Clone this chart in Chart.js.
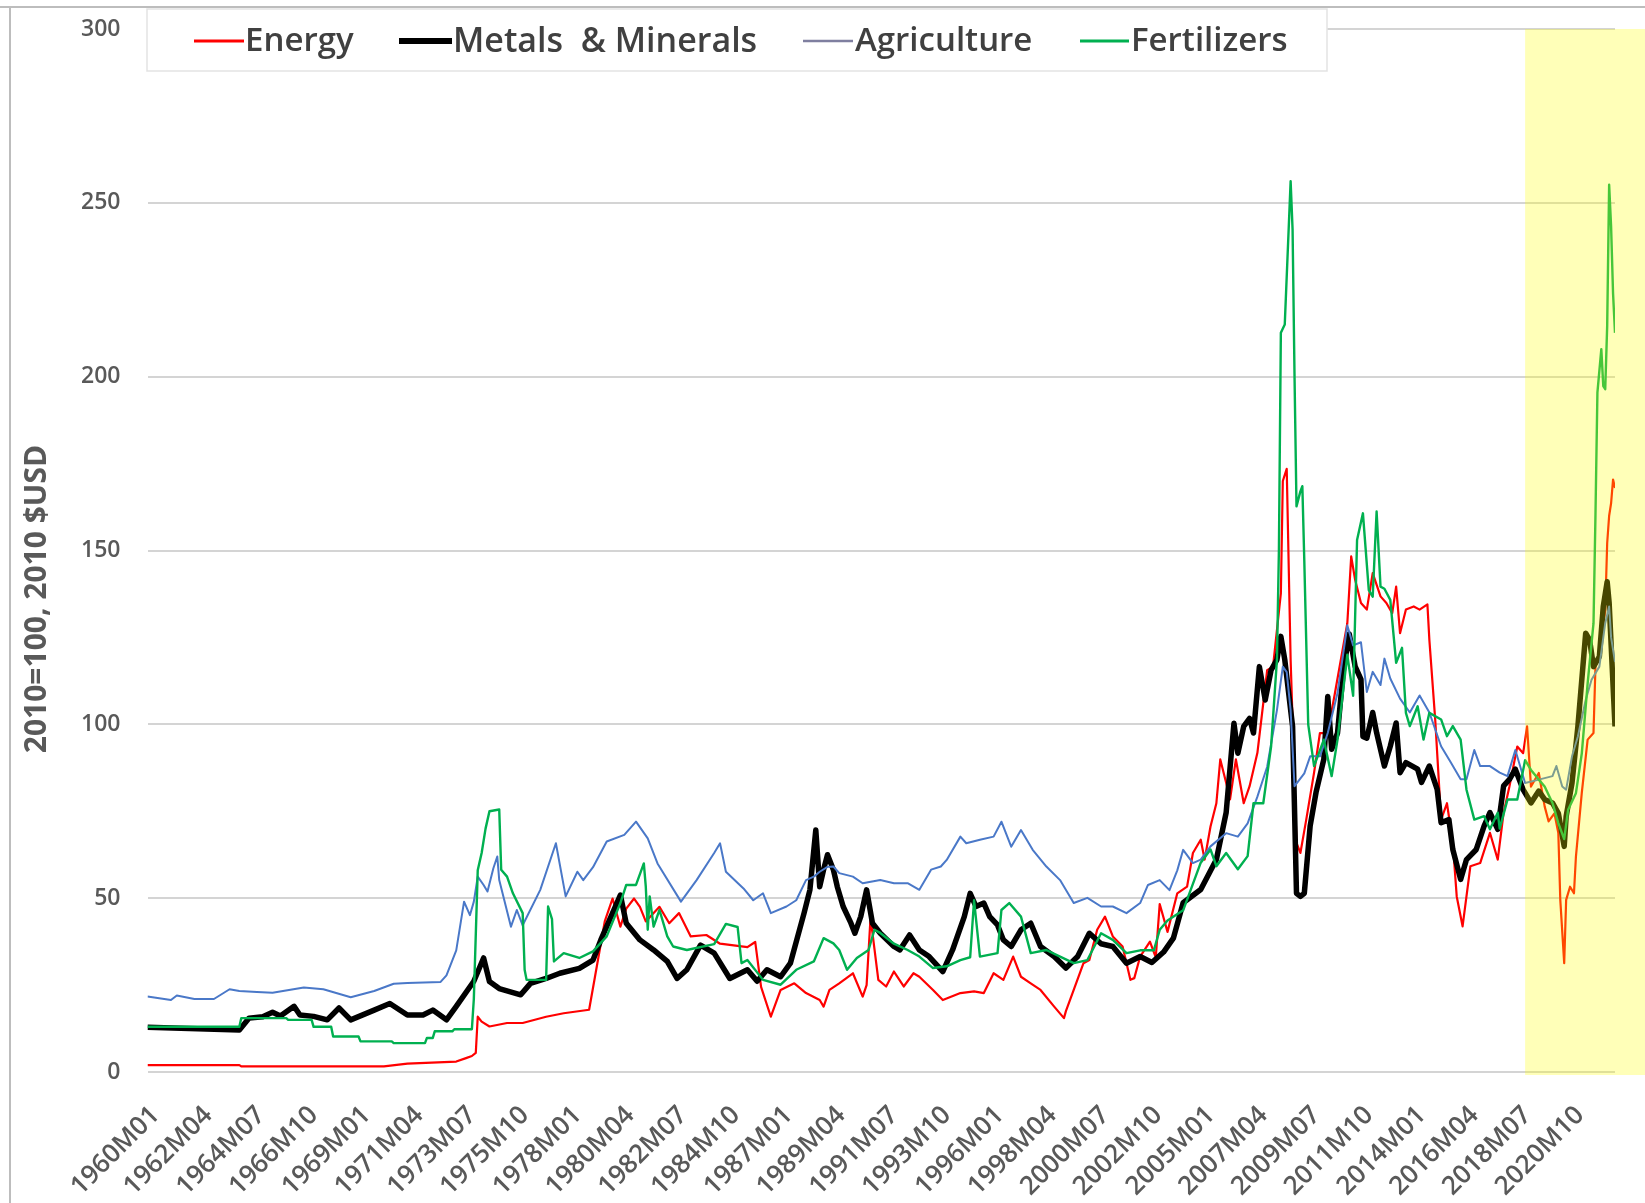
<!DOCTYPE html>
<html>
<head>
<meta charset="utf-8">
<script src="https://cdn.jsdelivr.net/npm/chart.js@4.4.1/dist/chart.umd.min.js"></script>
<style>
  html, body { margin: 0; padding: 0; background: #ffffff; }
  #wrap { width: 1645px; height: 1203px; position: relative; }
</style>
</head>
<body>
<div id="wrap"><canvas id="c"></canvas></div>
<script>
// x values are months since 1960M01 (0 = 1960M01, 751 = 2022M08)
const tickLabels = ['1960M01','1962M04','1964M07','1966M10','1969M01','1971M04','1973M07','1975M10',
  '1978M01','1980M04','1982M07','1984M10','1987M01','1989M04','1991M07','1993M10','1996M01','1998M04',
  '2000M07','2002M10','2005M01','2007M04','2009M07','2011M10','2014M01','2016M04','2018M07','2020M10'];
const lastMonth = '2022M08';
const highlightStart = '2018M10';
const seriesNames = ['Energy', 'Metals  & Minerals', 'Agriculture', 'Fertilizers'];
const yAxisTitle = '2010=100, 2010 $USD';

const energy = [[0,2.0],[47,2.0],[48,1.6],[121,1.6],[133,2.4],[158,3.0],[163,4.0],[166,4.6],[168,5.5],[169,15.9],[171,14.5],[175,13.1],[184,14.1],[192,14.1],[204,15.9],[213,16.9],[226,17.9],[229,27.4],[234,43.3],[238,49.9],[242,41.8],[245,47],[249,49.9],[252,47.5],[255,43.3],[262,47.5],[267,42.8],[272,45.7],[278,39.0],[286,39.4],[293,36.9],[307,35.9],[311,37.4],[314,24.5],[319,15.9],[324,23.6],[331,25.5],[337,22.7],[344,20.7],[346,18.8],[349,23.6],[354,25.5],[361,28.4],[366,21.7],[368,25],[370,44.2],[371,40.0],[374,26.5],[378,24.6],[382,28.9],[387,24.6],[392,28.4],[395,27.4],[402,23.6],[407,20.7],[416,22.7],[423,23.2],[428,22.7],[433,28.4],[438,26.5],[443,33.2],[447,27.4],[452,25.5],[457,23.6],[464,18.8],[469,15.5],[470,17.5],[474,23.6],[479,31.3],[482,32.2],[486,40.9],[490,44.7],[494,39.0],[499,36.1],[503,26.5],[505,27.0],[508,33.2],[513,37.5],[516,33],[518,48.3],[522,40.3],[527,51.4],[532,53.3],[535,63.0],[539,66.8],[541,61.1],[544,70.6],[547,77.3],[549,89.9],[552,83.2],[554,78.4],[557,89.9],[561,77.3],[564,82.2],[568,91.8],[573,115.6],[576,116.6],[580,137.7],[581,170],[583,173.5],[585,118.6],[588,65.9],[590,63.0],[593,72.6],[597,86.1],[600,97.5],[604,97.5],[608,110],[614,129],[616,148.3],[618,141.6],[621,134.9],[624,133.0],[627,143.5],[631,136.8],[634,134.9],[637,132.0],[639,139.6],[641,126.2],[644,133.0],[648,133.9],[651,133.0],[655,134.5],[656,124.3],[659,101.3],[662,72.6],[665,77.3],[668,65.9],[670,50.5],[673,41.9],[677,59.2],[682,60.1],[687,68.8],[691,61.1],[694,74.6],[697,82.2],[701,93.6],[704,91.7],[706,99.4],[708,82.1],[712,86.0],[715,76.4],[717,72.1],[720,74.4],[722,68.7],[723,49.5],[725,31.3],[726,49.5],[728,53.3],[730,51.4],[731,61.9],[734,80.3],[737,95.6],[740,97.5],[741,116.6],[743,120],[746,133],[747,152.1],[748,160],[749,163.6],[750,170.4],[751,168]];

const metals = [[0,12.9],[47,12.1],[52,15.5],[59,15.9],[64,17.2],[68,16.1],[75,18.9],[78,16.4],[85,16.0],[92,15.0],[98,18.4],[104,15.0],[116,17.8],[124,19.7],[133,16.4],[141,16.4],[146,17.8],[153,15.0],[158,18.9],[167,26.1],[172,32.8],[175,26.0],[180,24.0],[191,22.2],[196,25.5],[204,26.9],[211,28.4],[221,29.8],[228,32.2],[232,38.0],[242,50.9],[245,42.8],[252,38.0],[259,35.1],[266,31.8],[271,26.9],[276,29.4],[283,36.5],[290,34.2],[298,26.9],[307,29.4],[312,26.1],[317,29.4],[324,27.4],[329,31.3],[336,45.7],[339,52.4],[342,69.6],[344,53.3],[346,58.2],[348,62.5],[351,58.2],[353,53.3],[356,47.6],[360,42.8],[362,39.9],[365,44.7],[368,52.4],[371,42.8],[375,39.9],[382,36.1],[385,35.1],[390,39.4],[395,35.1],[400,33.2],[407,28.9],[412,35.1],[418,44.7],[421,51.4],[424,47.6],[428,48.6],[431,44.7],[435,42.3],[438,38.0],[442,36.1],[447,40.9],[452,42.8],[457,36.1],[464,33.2],[470,29.9],[476,33.2],[482,39.9],[488,36.9],[494,36.1],[501,31.3],[508,33.2],[514,31.5],[520,34.5],[525,38.5],[530,48.7],[539,52.5],[547,61.1],[552,74.6],[556,100.3],[558,91.7],[561,99.4],[564,101.7],[566,97.5],[569,116.6],[572,107.0],[575,115.6],[578,118.6],[580,125.3],[582,118.6],[586,99.4],[588,51.4],[590,50.5],[592,51.4],[595,70.8],[598,80.4],[602,90.0],[604,108.0],[606,92.8],[609,97.5],[612,115.6],[615,126],[618,116.7],[621,112.9],[622,96.5],[624,96.0],[627,103.4],[629,97.6],[633,88.0],[636,93.7],[639,100.4],[641,86.1],[644,89.0],[650,87.1],[652,83.3],[656,88.0],[660,81.3],[662,71.7],[666,72.6],[668,64.0],[672,55.4],[675,61.1],[680,64.0],[684,70.7],[687,74.6],[691,69.8],[694,82.3],[697,84.2],[700,87.1],[704,81.2],[708,77.4],[712,80.8],[715,78.4],[719,77.4],[722,74.4],[725,64.9],[726,73.5],[729,83.1],[732,99.4],[736,126.2],[738,124.3],[740,116.6],[743,119.5],[745,133.9],[747,141],[748,135],[751,99.4]];

const agriculture = [[0,21.7],[12,20.7],[15,22.0],[24,21.0],[34,21.0],[42,23.8],[47,23.3],[56,23.0],[64,22.8],[80,24.3],[90,23.8],[104,21.5],[116,23.3],[126,25.4],[133,25.6],[150,25.9],[153,27.8],[158,35.0],[162,49.0],[165,45.1],[167,49.0],[169,56.2],[172,53.8],[174,51.9],[177,58.6],[179,62.0],[180,55.2],[186,41.8],[189,46.6],[192,42.2],[201,52.4],[209,65.8],[214,50.5],[220,57.6],[223,55.2],[228,58.9],[235,66.3],[244,68.2],[250,72.0],[256,67.2],[261,60.0],[273,49.0],[281,55.2],[290,63.0],[293,65.8],[296,57.6],[305,52.8],[310,49.4],[315,51.4],[319,45.7],[327,47.6],[332,49.4],[337,55.2],[341,56.2],[344,57.6],[348,59.0],[351,59.1],[354,57.2],[361,56.2],[366,54.3],[375,55.2],[382,54.3],[389,54.3],[395,52.4],[401,58.2],[406,59.1],[409,61.0],[416,67.7],[419,65.8],[426,66.8],[433,67.7],[437,72.0],[442,64.8],[447,69.6],[453,63.9],[460,59.1],[467,55.2],[474,48.6],[481,50.1],[488,47.6],[494,47.6],[501,45.7],[508,48.6],[512,53.8],[518,55.2],[523,52.3],[527,58.0],[530,63.9],[535,60.1],[539,61.1],[544,64.9],[552,68.7],[558,67.7],[563,71.5],[568,79.2],[573,87.8],[578,104.1],[581,116.6],[583,115.0],[585,104.0],[587,82.2],[592,85.9],[595,90.8],[600,90.8],[604,97.5],[609,109.0],[614,128.5],[617,122.7],[621,123.6],[624,109.3],[627,115.1],[631,111.3],[633,118.9],[636,113.2],[641,107.4],[646,103.4],[651,108.3],[656,103.4],[662,93.7],[667,89.0],[672,84.2],[675,84.2],[679,92.6],[682,88.0],[687,88.0],[692,86.1],[696,85.1],[700,92.6],[705,83.1],[712,84.1],[719,85.1],[721,88.0],[724,82.1],[726,81.2],[729,90.8],[732,96.5],[736,107.0],[739,112.8],[743,116.6],[746,129.1],[748,133.9],[749,125.0],[751,118.0]];

const fertilizers = [[0,13.0],[47,13.0],[48,15.5],[71,15.5],[72,15.0],[84,15.0],[85,13.0],[94,13.0],[95,10.2],[108,10.2],[109,8.8],[125,8.8],[126,8.3],[142,8.3],[143,9.8],[146,9.8],[147,11.7],[156,11.7],[157,12.3],[166,12.3],[167,21.0],[169,58.0],[171,63.0],[173,70.0],[175,75.0],[180,75.5],[181,58.2],[184,56.2],[187,51.4],[192,45.7],[193,29.4],[194,26.5],[204,26.5],[205,47.6],[207,44.0],[208,31.8],[213,34.2],[221,32.8],[228,34.7],[235,39.0],[242,48.6],[245,53.8],[250,53.8],[254,60.0],[255,53.3],[256,40.9],[257,50.5],[259,41.8],[262,46.6],[266,39.0],[269,36.1],[276,35.1],[290,36.8],[296,42.6],[302,41.7],[304,31.3],[307,32.2],[315,26.5],[324,25.1],[332,29.4],[341,31.8],[346,38.5],[351,37.0],[354,35.1],[358,29.4],[363,32.8],[369,35.1],[372,40.9],[375,40.0],[382,36.9],[389,35.1],[395,33.2],[402,29.9],[409,30.4],[416,32.2],[421,33.0],[423,49.4],[426,33.2],[435,34.2],[437,46.6],[441,48.6],[447,44.7],[452,34.2],[460,35.1],[467,33.2],[474,31.3],[481,32.2],[488,39.9],[494,38.0],[501,34.2],[508,35.0],[515,35.0],[518,40.9],[522,43.6],[530,46.5],[539,60.2],[544,64.0],[547,59.2],[552,63.0],[558,58.3],[563,62.1],[566,77.3],[571,77.3],[575,93.6],[578,118.6],[579,150],[580,212.6],[582,215.0],[585,256.2],[586,242.3],[587,200.0],[588,162.7],[590,167],[591,168.5],[592,147.0],[594,100],[597,88.0],[602,95.6],[606,85.1],[609,95.6],[614,120.0],[617,108.2],[619,153.0],[622,160.7],[625,138.6],[627,136.7],[629,161.2],[631,139.6],[633,139.0],[636,135.8],[639,117.7],[642,122.0],[644,103.3],[646,99.5],[650,105.2],[653,95.6],[656,103.3],[662,101.4],[665,96.6],[668,99.5],[672,95.6],[675,81.2],[679,72.6],[684,73.6],[687,69.8],[691,74.6],[692,70.0],[696,78.4],[701,78.4],[705,89.7],[708,86.9],[712,84.1],[715,82.1],[719,77.4],[722,71.6],[725,67.0],[727,75.4],[731,80.2],[734,91.6],[737,111.8],[740,129.1],[741,160],[742,195.4],[744,207.9],[745,197.3],[746,196.4],[747,214.6],[748,255.2],[749,243.2],[750,224],[751,212.6]];

const yTicks = [0, 50, 100, 150, 200, 250, 300];

function monthIndex(label) {
  const y = parseInt(label.slice(0, 4), 10);
  const m = parseInt(label.slice(5), 10);
  return (y - 1960) * 12 + (m - 1);
}
const toXY = arr => arr.map(p => ({ x: p[0], y: p[1] }));

const colors = ['#FF0000', '#000000', '#4A78C8', '#00B050'];
const widths = [2.2, 5.5, 2, 2.4];
const legendLineColors = ['#FF0000', '#000000', '#7F7FA0', '#00B050'];
const legendLineWidths = [3, 6, 2.5, 3];

const FONT_FAMILY = '"Open Sans", "Liberation Sans", sans-serif';
const Y_TICK_FONT = { family: FONT_FAMILY, size: 23, weight: '600' };
const X_TICK_FONT = { family: FONT_FAMILY, size: 26, weight: '600' };

const framePlugin = {
  id: 'frame',
  beforeDraw(chart) {
    const ctx = chart.ctx;
    ctx.save();
    ctx.fillStyle = '#ffffff';
    ctx.fillRect(0, 0, chart.width, chart.height);
    ctx.strokeStyle = '#bdbdbd';
    ctx.lineWidth = 2;
    ctx.beginPath();
    ctx.moveTo(0, 7); ctx.lineTo(chart.width, 7);
    ctx.moveTo(10, 7); ctx.lineTo(10, chart.height);
    ctx.stroke();
    // y axis title
    ctx.translate(37, 599);
    ctx.rotate(-Math.PI / 2);
    ctx.fillStyle = '#595959';
    ctx.font = 'bold 30px ' + FONT_FAMILY;
    ctx.textAlign = 'center';
    ctx.textBaseline = 'middle';
    ctx.fillText(yAxisTitle, 0, 0);
    ctx.restore();
  }
};

const highlightPlugin = {
  id: 'highlight',
  afterDatasetsDraw(chart) {
    const { ctx, chartArea, scales } = chart;
    const x0 = scales.x.getPixelForValue(monthIndex(highlightStart));
    ctx.save();
    ctx.fillStyle = 'rgba(255,255,0,0.28)';
    ctx.fillRect(x0, chartArea.top, chart.width - x0, chartArea.bottom - chartArea.top + 3);
    ctx.restore();
  }
};

const legendPlugin = {
  id: 'customLegend',
  afterDraw(chart) {
    const ctx = chart.ctx;
    ctx.save();
    ctx.fillStyle = '#ffffff';
    ctx.fillRect(147, 9, 1180, 62);
    ctx.strokeStyle = '#e3e3e3';
    ctx.lineWidth = 1.5;
    ctx.strokeRect(147, 9, 1180, 62);
    const entries = [
      { l1: 194, l2: 244, t: 245 },
      { l1: 399, l2: 452, t: 453 },
      { l1: 803, l2: 853, t: 855 },
      { l1: 1080, l2: 1129, t: 1131 }
    ];
    const y = 41;
    ctx.textBaseline = 'middle';
    ctx.textAlign = 'left';
    entries.forEach((e, i) => {
      ctx.strokeStyle = legendLineColors[i];
      ctx.lineWidth = legendLineWidths[i];
      ctx.beginPath();
      ctx.moveTo(e.l1, y); ctx.lineTo(e.l2, y);
      ctx.stroke();
      ctx.fillStyle = '#404040';
      ctx.font = '600 ' + (i === 1 ? 34 : 33) + 'px ' + FONT_FAMILY;
      ctx.fillText(seriesNames[i], e.t, y + 1);
    });
    ctx.restore();
  }
};

const seriesData = [energy, metals, agriculture, fertilizers];
new Chart(document.getElementById('c'), {
  type: 'line',
  data: {
    datasets: seriesData.map((s, i) => ({
      label: seriesNames[i],
      data: toXY(s),
      borderColor: colors[i],
      backgroundColor: colors[i],
      borderWidth: widths[i],
      pointRadius: 0,
      tension: 0,
      fill: false,
      borderJoinStyle: 'round',
      order: 4 - i
    }))
  },
  options: {
    responsive: true,
    maintainAspectRatio: false,
    animation: false,
    events: [],
    layout: { padding: { top: 29, right: 30, left: 0, bottom: 0 } },
    plugins: { legend: { display: false }, tooltip: { enabled: false }, title: { display: false } },
    scales: {
      x: {
        type: 'linear',
        min: 0,
        max: monthIndex(lastMonth),
        afterBuildTicks: axis => { axis.ticks = tickLabels.map(l => ({ value: monthIndex(l) })); },
        afterFit: scale => { scale.height = 131; scale.paddingTop = 0; },
        grid: { display: false, drawTicks: false },
        border: { display: false },
        ticks: {
          autoSkip: false,
          maxRotation: 45,
          minRotation: 45,
          padding: 28,
          labelOffset: 8,
          color: '#595959',
          font: X_TICK_FONT,
          callback: value => {
            const i = tickLabels.findIndex(l => monthIndex(l) === value);
            return i >= 0 ? tickLabels[i] : '';
          }
        }
      },
      y: {
        min: 0,
        max: 300,
        afterBuildTicks: axis => { axis.ticks = yTicks.map(v => ({ value: v })); },
        afterFit: scale => { scale.width = 147.5; scale.paddingTop = 0; scale.paddingBottom = 0; },
        grid: { color: '#d4d4d4', lineWidth: 2, drawTicks: false },
        border: { display: false },
        ticks: { padding: 27, color: '#595959', font: Y_TICK_FONT }
      }
    }
  },
  plugins: [framePlugin, highlightPlugin, legendPlugin]
});
</script>
</body>
</html>
